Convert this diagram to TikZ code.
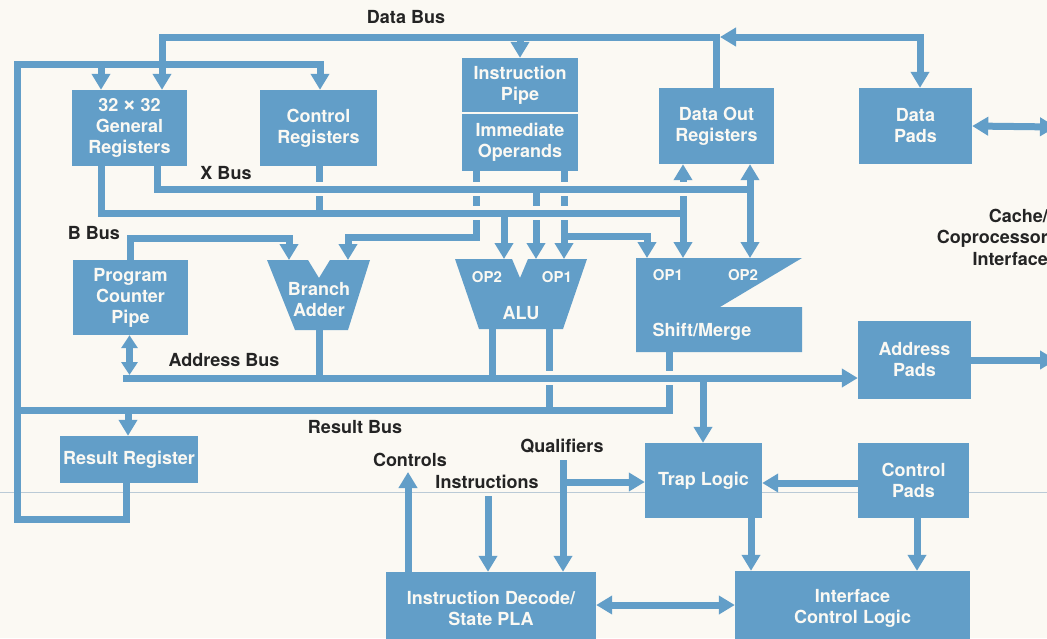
\documentclass[tikz,border=0pt]{standalone}
\usepackage{fontspec}
\setmainfont{TeX Gyre Heros}
\usetikzlibrary{arrows.meta}
\definecolor{chipblue}{RGB}{98,158,200}
\definecolor{paper}{RGB}{251,249,243}
\definecolor{ink}{RGB}{36,36,36}
\definecolor{foldline}{RGB}{186,202,214}

\begin{document}
\begin{tikzpicture}[x=1pt,y=-1pt,
  bus/.style={draw=chipblue, line width=7pt, line join=miter},
  tip/.style={-{Triangle[width=18pt,length=16pt]}},
  tips/.style={{Triangle[width=18pt,length=16pt]}-{Triangle[width=18pt,length=16pt]}},
  smalltips/.style={{Triangle[width=16pt,length=13pt]}-{Triangle[width=16pt,length=13pt]}},
  blk/.style={fill=chipblue, text=paper, font=\fontsize{18}{21}\selectfont\bfseries,
              align=center, inner sep=0pt},
  port/.style={text=paper, font=\fontsize{15}{18}\selectfont\bfseries, inner sep=0pt},
  lbl/.style={text=ink, font=\fontsize{18}{21.5}\selectfont\bfseries, inner sep=0pt},
  gapfill/.style={fill=paper},
]
\useasboundingbox (0,0) rectangle (1047,638);
\fill[paper] (0,0) rectangle (1047,638);
\clip (0,0) rectangle (1047,638);

% faint fold line across the sheet
\draw[foldline, line width=0.8pt] (0,492) -- (1047,492);

% ---------- rectangular blocks ----------
\node[blk, minimum width=115pt, minimum height=76pt] (gr)   at (129.5,128)   {32{\fontsize{24}{21}\selectfont\,×\,}32\\General\\Registers};
\node[blk, minimum width=117pt, minimum height=76pt] (cr)   at (318.5,128)   {Control\\Registers};
\node[blk, minimum width=116pt, minimum height=54pt] (ip)   at (520,85)      {Instruction\\Pipe};
\node[blk, minimum width=116pt, minimum height=57pt] (io)   at (520,142.5)   {Immediate\\Operands};
\node[blk, minimum width=115pt, minimum height=76pt] (dout) at (716.5,126)   {Data Out\\Registers};
\node[blk, minimum width=113pt, minimum height=76pt] (dpad) at (915.5,126)   {Data\\Pads};
\node[blk, minimum width=115pt, minimum height=75pt] (pc)   at (130.5,297.5) {Program\\Counter\\Pipe};
\node[blk, minimum width=113pt, minimum height=78pt] (apad) at (914.5,360)   {Address\\Pads};
\node[blk, minimum width=138pt, minimum height=47pt] (rr)   at (129,459.5)   {Result Register};
\node[blk, minimum width=117pt, minimum height=75pt] (trap) at (703.5,480.5) {Trap Logic};
\node[blk, minimum width=111pt, minimum height=75pt] (cpad) at (913.5,480.5) {Control\\Pads};
\node[blk, minimum width=210pt, minimum height=73pt] (idp)  at (491,608.5)   {Instruction Decode/\\State PLA};
\node[blk, minimum width=235pt, minimum height=74pt] (icl)  at (852.5,608)   {Interface\\Control Logic};

% ---------- shaped blocks ----------
\fill[chipblue] (267,260) -- (308,260) -- (319,278) -- (330,260) -- (370,260)
                -- (348,330) -- (295,330) -- cycle;
\node[blk, fill=none] (ba) at (319,300) {Branch\\Adder};

\fill[chipblue] (455,259) -- (512,259) -- (520,278) -- (528,259) -- (587,259)
                -- (563,329) -- (479,329) -- cycle;
\node[port] (aluop2) at (487,277) {OP2};
\node[port] (aluop1) at (557,277) {OP1};
\node[blk, fill=none] (alu) at (521,313) {ALU};

\fill[chipblue] (636,258) -- (802,258) -- (720,307) -- (802,307) -- (802,352)
                -- (636,352) -- cycle;
\node[port] (smop1) at (668,275) {OP1};
\node[port] (smop2) at (743,275) {OP2};
\node[blk, fill=none] (sm) at (702,332) {Shift/Merge};

% ports of the shaped blocks
\coordinate (baL)   at (289,260);
\coordinate (baR)   at (348,260);
\coordinate (baO)   at (319,330);
\coordinate (aluA)  at (504,259);
\coordinate (aluB)  at (536,259);
\coordinate (aluC)  at (564,259);
\coordinate (aluOL) at (492,329);
\coordinate (aluOR) at (549,329);
\coordinate (smA)   at (647,258);
\coordinate (smB)   at (683,258);
\coordinate (smC)   at (750,258);
\coordinate (smO)   at (669,352);

% ---------- data bus and register feedback loop ----------
\draw[bus,tip] (dout.north) |- (162,37) -- (162,0 |- gr.north);
\draw[bus,tip] (520,37) -- (ip.north);
\draw[bus,tips] (720,37) -- (920,37) -- (920,0 |- dpad.north);
\draw[bus,tips] (dpad.east) -- (1056,127);

\draw[bus,tip] (126,0 |- rr.south) -- (126,519) -- (17,519) -- (17,64) -- (320,64)
               -- (320,0 |- cr.north);
\draw[bus,tip] (101,64) -- (101,0 |- gr.north);

% ---------- operand buses ----------
\draw[bus,tip] (476,0 |- io.south) -- (476,237) -- (348,237) -- (baR);
\draw[bus,tip] (564,0 |- io.south) -- (aluC);
\draw[bus,tip] (564,236) -- (647,236) -- (smA);
\draw[bus] (319,0 |- cr.south) -- (319,213);
\draw[bus,tip] (683,213) -- (683,0 |- dout.south);
\draw[bus,tip] (683,213) -- (smB);
\draw[bus,tip] (536,189) -- (aluB);

% breaks where lines pass under the X bus and the lower bus
\foreach \px/\py in {319/189, 476/189, 564/189, 683/189, 476/213, 536/213, 564/213}
  \fill[gapfill] (\px-5,\py-7) rectangle (\px+5,\py+7);

\draw[bus] (101,0 |- gr.south) |- (683,213);
\draw[bus,tip] (504,213) -- (aluA);
\draw[bus] (157,0 |- gr.south) |- (750,189);
\draw[bus,tip] (750,189) -- (750,0 |- dout.south);
\draw[bus,tip] (750,189) -- (smC);

% B bus from the program counter pipe
\draw[bus,tip] (130,0 |- pc.north) -- (130,238) -- (289,238) -- (baL);

% ---------- result and address buses ----------
\draw[bus] (aluOR) -- (549,410);
\draw[bus] (smO) -- (669,410) -- (17,410);
\foreach \px/\py in {549/378, 669/378}
  \fill[gapfill] (\px-5,\py-7) rectangle (\px+5,\py+7);
\draw[bus,tip] (123,378) -- (apad.west |- 0,378);
\draw[bus] (baO) -- (319,378);
\draw[bus] (aluOL) -- (492,378);
\draw[bus,tip] (703,378) -- (703,0 |- trap.north);
\draw[bus,tip] (128,410) -- (128,0 |- rr.north);
\draw[bus,smalltips] (129.5,0 |- pc.south) -- (129.5,375);
\draw[bus,tip] (apad.east) -- (1056,360);

% ---------- control section ----------
\coordinate (qual) at (563,460);
\coordinate (instr) at (488,496);
\coordinate (ctrl) at (408,472);
\draw[bus,tip] (qual) -- (563,0 |- idp.north);
\draw[bus,tip] (563,482) -- (trap.west |- 0,482);
\draw[bus,tip] (instr) -- (488,0 |- idp.north);
\draw[bus,tip] (408,0 |- idp.north) -- (ctrl);
\draw[bus,tips] (idp.east |- 0,605) -- (icl.west |- 0,605);
\draw[bus,tip] (cpad.west |- 0,483) -- (trap.east |- 0,483);
\draw[bus,tip] (751,0 |- trap.south) -- (751,0 |- icl.north);
\draw[bus,tip] (917,0 |- cpad.south) -- (917,0 |- icl.north);

% ---------- labels ----------
\node[lbl] (ldata) at (406,17)  {Data Bus};
\node[lbl] (lx)    at (226,173) {X Bus};
\node[lbl] (lb)    at (94,233)  {B Bus};
\node[lbl] (laddr) at (224,360) {Address Bus};
\node[lbl] (lres)  at (355,427) {Result Bus};
\node[lbl] (lctl)  at (410,460) {Controls};
\node[lbl] (lins)  at (487,482) {Instructions};
\node[lbl] (lqual) at (562,446) {Qualifiers};
\node[lbl, align=right, anchor=east] (lcache) at (1048,237) {Cache/\\Coprocessor\\Interface};
\end{tikzpicture}
\end{document}
